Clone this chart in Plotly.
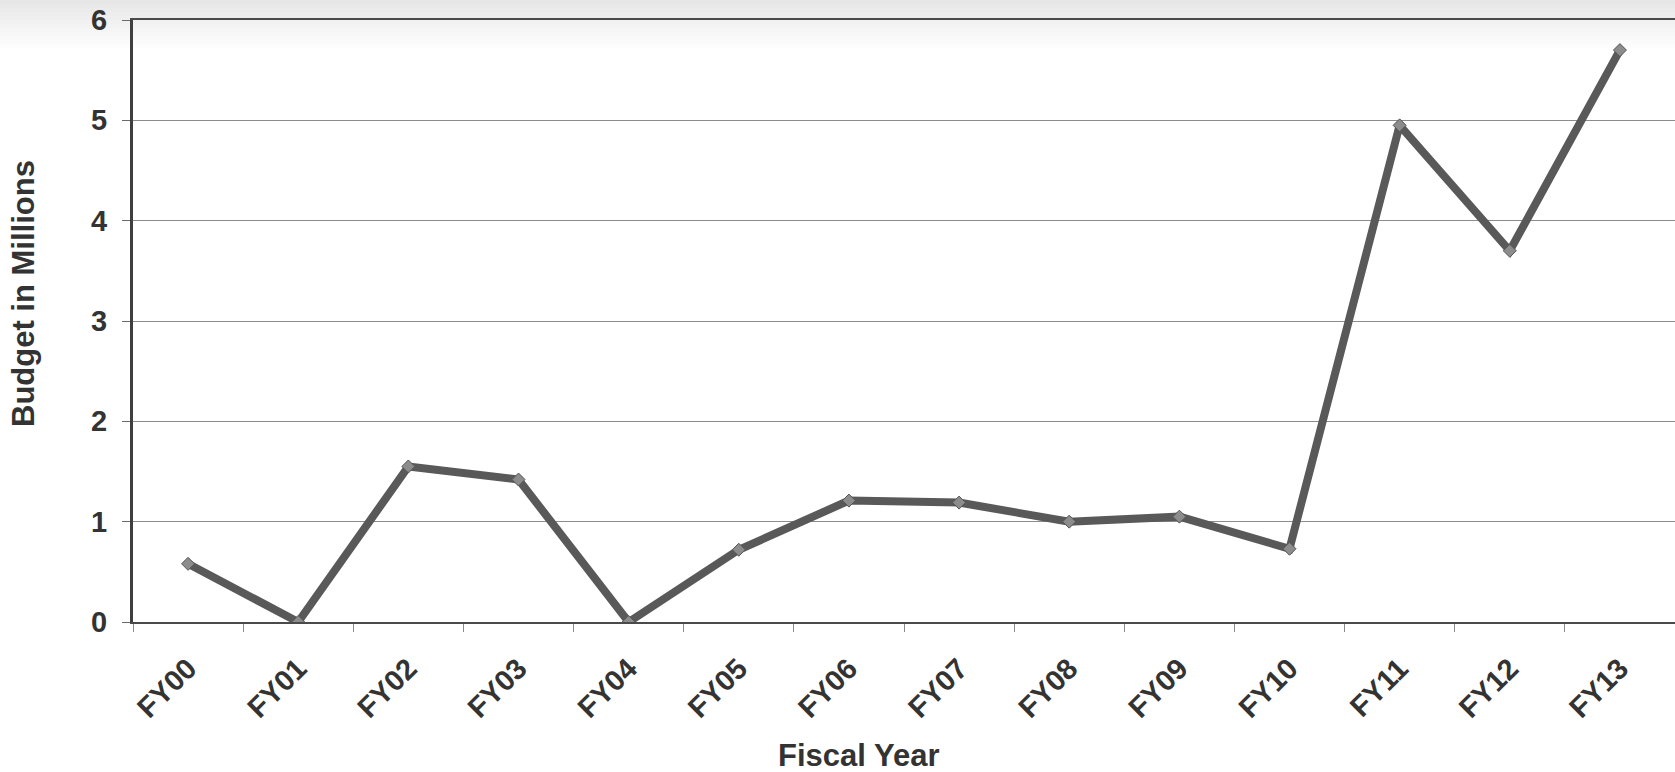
import plotly.graph_objects as go

# Annual budget by fiscal year (millions)
fiscal_years = ["FY00", "FY01", "FY02", "FY03", "FY04", "FY05", "FY06",
                "FY07", "FY08", "FY09", "FY10", "FY11", "FY12", "FY13"]
budget_millions = [0.58, 0.0, 1.55, 1.42, 0.0, 0.72, 1.21,
                   1.19, 1.0, 1.05, 0.73, 4.95, 3.7, 5.7]
y_ticks = [0, 1, 2, 3, 4, 5, 6]

W, H = 1675, 772
M_L, M_R, M_T, M_B = 133, 0, 20, 150
PLOT_H = H - M_T - M_B
FONT = "Liberation Sans, Arial, Helvetica, sans-serif"
TEXT = "#333333"


def px_to_paper_y(py):
    return (H - M_B - py) / PLOT_H


def px_to_paper_x(px):
    return (px - M_L) / (W - M_L - M_R)


fig = go.Figure()
fig.add_trace(go.Scatter(
    x=fiscal_years,
    y=budget_millions,
    mode="lines+markers",
    line=dict(color="#595959", width=8),
    marker=dict(symbol="diamond", size=10, color="#8c8c8c",
                line=dict(color="#555555", width=1)),
    showlegend=False,
))

# soft grey haze fading down from the top edge of the page
shapes = []
for depth in range(4, 52, 4):
    shapes.append(dict(type="rect", xref="paper", yref="paper",
                       x0=px_to_paper_x(0), x1=1.0,
                       y0=px_to_paper_y(depth), y1=px_to_paper_y(0),
                       fillcolor="#808080", opacity=0.018, line=dict(width=0),
                       layer="below"))

annotations = [
    dict(text="<b>Fiscal Year</b>", xref="paper", yref="paper",
         x=px_to_paper_x(858), y=px_to_paper_y(755), showarrow=False,
         font=dict(family=FONT, size=31, color=TEXT),
         xanchor="center", yanchor="middle"),
    dict(text="<b>Budget in Millions</b>", xref="paper", yref="paper",
         x=px_to_paper_x(23), y=px_to_paper_y(294), showarrow=False,
         textangle=-90, font=dict(family=FONT, size=31, color=TEXT),
         xanchor="center", yanchor="middle"),
]

fig.update_layout(
    width=W, height=H,
    margin=dict(l=M_L, r=M_R, t=M_T, b=M_B, pad=0),
    paper_bgcolor="white",
    plot_bgcolor="rgba(0,0,0,0)",
    shapes=shapes,
    annotations=annotations,
    xaxis=dict(
        type="category",
        range=[-0.5, len(fiscal_years) - 0.5],
        tickson="boundaries",
        ticks="outside", ticklen=8, tickwidth=1, tickcolor="#8a8a8a",
        tickangle=-45,
        ticklabelstandoff=16,
        tickfont=dict(family=FONT, size=29, color=TEXT, weight="bold"),
        showline=True, mirror=True, linecolor="#4a4a4a", linewidth=2,
        showgrid=False, zeroline=False,
    ),
    yaxis=dict(
        range=[0, 6],
        tickvals=y_ticks,
        ticks="outside", ticklen=8, tickwidth=1, tickcolor="#6a6a6a",
        ticklabelstandoff=9,
        tickfont=dict(family=FONT, size=29, color=TEXT, weight="bold"),
        showline=True, linecolor="#3f3f3f", linewidth=3,
        showgrid=True, gridcolor="#8c8c8c", gridwidth=1,
        zeroline=False,
    ),
)

fig.write_html("out.html")
